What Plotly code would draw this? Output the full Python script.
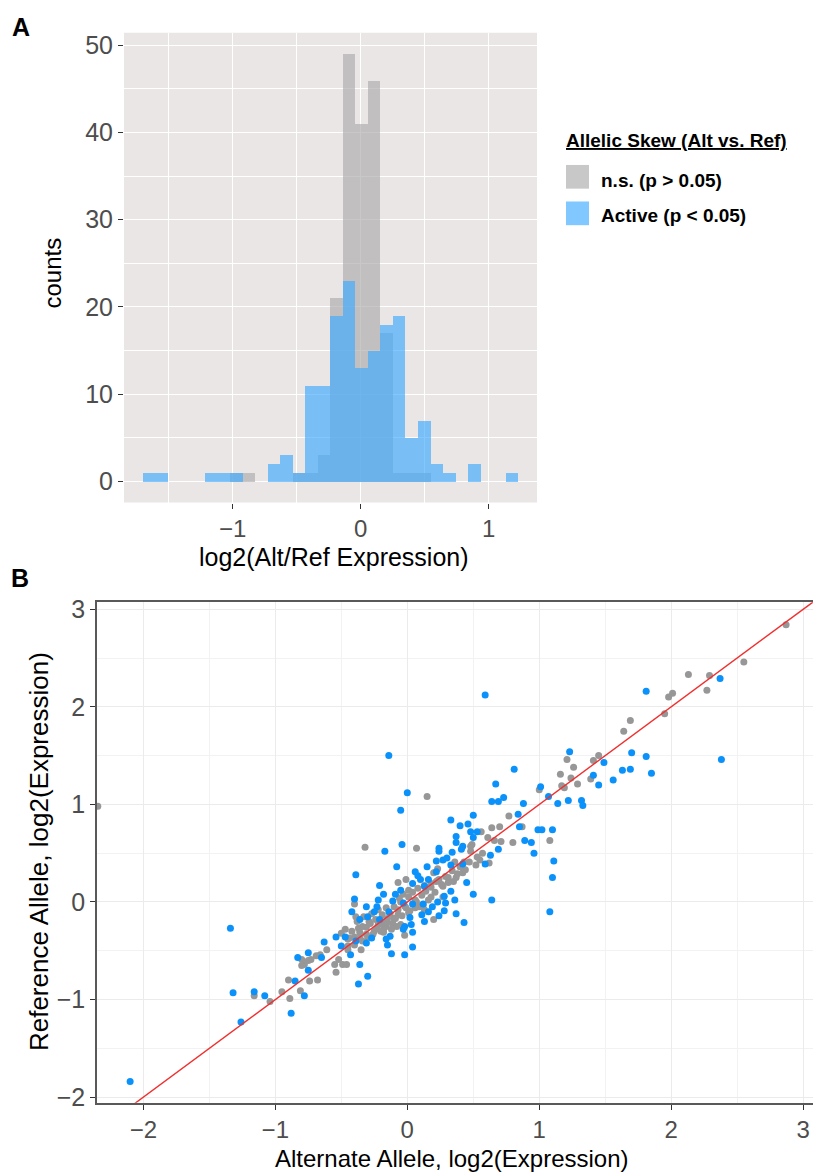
import plotly.graph_objects as go

# ---------------- Panel A data: histogram of log2(Alt/Ref) ----------------
bin_start = -1.702          # left edge of first bin (log2 units)
bin_width = 0.0977          # 30 bins
ns_counts = [0, 0, 0, 0, 0, 0, 0, 1, 1, 0, 0, 0, 1, 1, 3, 21, 49, 41, 46, 17,
             1, 1, 1, 0, 0, 0, 0, 0, 0, 0]
active_counts = [1, 1, 0, 0, 0, 1, 1, 1, 0, 0, 2, 3, 1, 11, 11, 19, 23, 13, 15, 18,
                 19, 5, 7, 2, 1, 0, 2, 0, 0, 1]
hist_x_ticks = [-1, 0, 1]
hist_y_ticks = [0, 10, 20, 30, 40, 50]

# ---------------- Panel B data: Alt vs Ref expression ----------------
ns_points = [
    (2.87, 2.84), (2.55, 2.46), (2.13, 2.33), (2.29, 2.32), (2.27, 2.17), (2.01, 2.14),
    (1.98, 2.10), (1.95, 1.93), (1.69, 1.86), (1.64, 1.75), (1.21, 1.46), (1.45, 1.50),
    (1.41, 1.45), (1.26, 1.38), (1.16, 1.31), (1.24, 1.27), (1.39, 1.26), (1.29, 1.21),
    (1.17, 1.19), (1.19, 1.17), (0.15, 1.08), (1.00, 1.15), (0.77, 0.88), (0.56, 0.72),
    (0.64, 0.76), (0.70, 0.77), (0.87, 0.77), (1.08, 0.63), (0.80, 0.61), (0.71, 0.62),
    (0.66, 0.63), (0.61, 0.66), (0.49, 0.59), (0.57, 0.50), (0.62, 0.40), (0.55, 0.43),
    (0.07, 0.55), (0.36, 0.41), (0.43, 0.41), (0.48, 0.57), (0.48, 0.52), (0.53, 0.46),
    (0.23, 0.34), (0.20, 0.30), (-0.32, 0.56), (-2.345, 0.98), (-0.07, 0.20), (-0.01, 0.23),
    (0.01, 0.12), (0.13, 0.17), (0.18, 0.19), (0.22, 0.21), (0.24, 0.23), (0.27, 0.16),
    (0.31, 0.25), (0.35, 0.21), (0.38, 0.29), (0.42, 0.30),
    (-0.40, -0.02), (-0.39, -0.15), (-0.37, -0.27), (-0.34, -0.25), (-0.29, -0.20),
    (-0.31, -0.33), (-0.25, -0.30), (-0.36, -0.37), (-0.40, -0.36), (-0.50, -0.32),
    (-0.47, -0.28), (-0.44, -0.37), (-0.45, -0.45), (-0.35, -0.49), (-0.61, -0.49),
    (-0.45, -0.49), (-0.52, -0.59), (-0.49, -0.64), (-0.46, -0.64), (-0.55, -0.64),
    (-0.54, -0.72), (-0.69, -0.55), (-0.66, -0.54), (-0.73, -0.59), (-0.78, -0.64),
    (-0.80, -0.59), (-0.80, -0.65), (-0.75, -0.60), (-0.74, -0.81), (-0.68, -0.80),
    (-0.90, -0.80), (-0.95, -0.92), (-0.81, -0.91), (-0.89, -0.99), (-1.04, -1.02),
    (-1.16, -0.96), (-0.22, -0.23),
    (-0.05, 0.00), (0.12, -0.03), (0.13, -0.08), (0.20, -0.18), (0.18, 0.05), (0.27, 0.05),
    (-0.02, -0.34), (-0.18, -0.28), (-0.17, -0.20), (-0.15, -0.17), (-0.10, -0.17),
    (-0.07, -0.13), (-0.11, -0.22), (-0.01, -0.06), (0.01, -0.11), (-0.05, -0.23),
    (-0.08, -0.25), (-0.16, -0.25), (-0.20, -0.30), (0.07, 0.00), (0.06, -0.06),
    (-0.45, -0.38), (-0.42, -0.30), (-0.40, -0.44), (-0.38, -0.20), (-0.36, -0.31),
    (-0.34, -0.40), (-0.33, -0.15), (-0.31, -0.26), (-0.30, -0.36), (-0.28, -0.22),
    (-0.27, -0.12), (-0.26, -0.33), (-0.24, -0.18), (-0.23, -0.27), (-0.22, -0.08),
    (-0.20, -0.22), (-0.19, -0.13), (-0.18, -0.31), (-0.16, -0.06), (-0.15, -0.21),
    (-0.13, -0.12), (-0.12, -0.28), (-0.10, -0.05), (-0.09, -0.17), (-0.07, -0.08),
    (-0.06, 0.04), (-0.04, -0.14), (-0.03, 0.08), (-0.02, -0.04), (0.01, 0.05),
    (0.02, -0.09), (0.04, 0.10), (0.06, 0.02), (0.08, 0.14), (0.09, -0.05),
    (0.11, 0.07), (0.14, 0.11), (0.16, 0.02), (0.18, 0.15), (0.21, 0.10),
    (0.23, 0.22), (0.26, 0.18), (0.29, 0.26), (0.31, 0.20), (0.34, 0.32),
    (0.37, 0.25), (0.40, 0.36), (0.44, 0.33), (0.47, 0.41), (0.52, 0.38),
]
active_points = [
    (2.37, 2.29), (1.81, 2.16), (0.59, 2.12), (1.23, 1.54), (1.70, 1.53), (1.81, 1.49),
    (2.38, 1.46), (1.49, 1.43), (1.63, 1.35), (1.69, 1.36), (1.85, 1.32), (1.41, 1.30),
    (1.56, 1.25), (1.45, 1.20), (0.81, 1.36), (0.67, 1.21), (0.00, 1.12), (1.01, 1.18),
    (1.07, 1.08), (0.73, 1.07), (0.69, 1.03), (0.64, 1.03), (0.88, 1.01), (1.14, 1.01),
    (1.22, 1.04), (1.32, 1.04), (1.33, 0.99), (-0.05, 0.94), (0.84, 0.90), (0.50, 0.89),
    (0.33, 0.84), (0.40, 0.78), (0.46, 0.80), (0.48, 0.72), (0.53, 0.72), (0.85, 0.77),
    (0.99, 0.74), (1.02, 0.74), (1.10, 0.74), (1.11, 0.42), (0.96, 0.50), (0.94, 0.61),
    (0.89, 0.63), (0.50, 0.66), (0.69, 0.54), (0.63, 0.48), (0.59, 0.39), (-0.04, 0.59),
    (0.37, 0.61), (0.37, 0.67), (0.34, 0.51), (0.42, 0.57), (0.41, 0.54), (0.24, 0.55),
    (0.24, 0.52), (0.22, 0.42), (0.27, 0.43), (0.30, 0.45), (0.42, 0.39),
    (-0.14, 1.50), (-0.17, 0.52), (-0.08, 0.36), (-0.39, 0.28), (-0.21, 0.17),
    (-0.09, 0.08), (0.04, 0.19), (0.10, 0.23), (0.16, 0.23), (0.13, 0.16), (0.33, 0.11),
    (0.45, 0.20), (0.50, 0.08), (1.10, 0.25),
    (-0.40, 0.03), (-0.31, -0.05), (-1.34, -0.27), (-0.36, -0.18), (-0.30, -0.15),
    (-0.27, -0.37), (-0.31, -0.42), (-0.47, -0.36), (-0.54, -0.36), (-0.39, -0.40),
    (-0.50, -0.45), (-0.43, -0.54), (-0.63, -0.41), (-0.36, -0.64), (-0.30, -0.76),
    (-0.37, -0.84), (-0.65, -0.57), (-0.75, -0.52), (-0.83, -0.57), (-0.75, -0.70),
    (-0.85, -0.81), (-0.78, -0.96), (-0.88, -1.14), (-1.08, -0.96), (-1.16, -0.92),
    (-1.32, -0.93), (-1.26, -1.23), (-0.23, -0.05), (-0.25, -0.10), (-0.21, -0.18),
    (-0.11, 0.01), (-0.03, -0.01), (0.04, -0.02), (0.16, -0.10), (0.11, -0.13),
    (0.13, -0.20), (0.24, -0.14), (0.28, -0.09), (0.29, -0.01), (0.23, 0.00),
    (0.36, 0.02), (0.37, -0.12), (0.43, -0.21), (0.64, 0.02), (1.08, -0.10),
    (-0.02, -0.25), (-0.03, -0.28), (0.04, -0.31), (0.03, -0.23), (-0.13, -0.35),
    (-0.16, -0.38), (-0.15, -0.44), (0.04, -0.46), (-0.12, -0.53), (-0.02, -0.54),
    (-2.10, -1.84),
    (-0.22, 0.02), (-0.14, -0.10), (-0.05, 0.12), (0.02, -0.16), (0.08, 0.27),
    (0.12, -0.02), (0.19, -0.05), (0.22, 0.31), (0.28, 0.06), (0.33, 0.38),
    (-0.42, -0.10), (-0.18, 0.08), (0.06, 0.31), (0.15, 0.36),
]
scatter_ticks = [-2, -1, 0, 1, 2, 3]

ns_alt = [p[0] for p in ns_points]
ns_ref = [p[1] for p in ns_points]
active_alt = [p[0] for p in active_points]
active_ref = [p[1] for p in active_points]

# ---------------- build figure ----------------
W, H = 813, 1174
FONT = "Liberation Sans, Arial, Helvetica, sans-serif"
GRAY_FILL = "rgba(171,171,171,0.65)"
BLUE_FILL = "rgba(60,171,255,0.65)"

centers = [bin_start + (i + 0.5) * bin_width for i in range(len(ns_counts))]

fig = go.Figure()
fig.add_trace(go.Bar(x=centers, y=ns_counts, width=bin_width, name="n.s. (p > 0.05)",
                     marker=dict(color=GRAY_FILL, line=dict(width=0)),
                     xaxis="x", yaxis="y", showlegend=False))
fig.add_trace(go.Bar(x=centers, y=active_counts, width=bin_width, name="Active (p < 0.05)",
                     marker=dict(color=BLUE_FILL, line=dict(width=0)),
                     xaxis="x", yaxis="y", showlegend=False))

fig.add_trace(go.Scatter(x=ns_alt, y=ns_ref, mode="markers",
                         marker=dict(size=7, color="#979797", line=dict(width=0)),
                         xaxis="x2", yaxis="y2", showlegend=False))
fig.add_trace(go.Scatter(x=active_alt, y=active_ref, mode="markers",
                         marker=dict(size=7, color="#0A91FA", line=dict(width=0)),
                         xaxis="x2", yaxis="y2", showlegend=False))

all_vals = ns_alt + ns_ref + active_alt + active_ref
diag = [min(all_vals) - 1, max(all_vals) + 1]
fig.add_trace(go.Scatter(x=diag, y=diag, mode="lines",
                         line=dict(color="#F03030", width=1.4),
                         xaxis="x2", yaxis="y2", showlegend=False))

tick_font = dict(family=FONT, size=25, color="#4D4D4D")
tick_font_b = dict(family=FONT, size=24, color="#4D4D4D")

def px_x(p):
    return p / W

def px_y(p):
    return 1 - p / H

fig.update_layout(
    width=W, height=H,
    margin=dict(l=0, r=0, t=0, b=0),
    paper_bgcolor="white", plot_bgcolor="white",
    barmode="overlay", bargap=0,
    showlegend=False,
    font=dict(family=FONT, color="black"),
    xaxis=dict(domain=[px_x(124), px_x(537)], range=[-1.849, 1.377], anchor="y",
               tickmode="array", tickvals=hist_x_ticks, ticks="outside", ticklen=5,
               tickcolor="#333333", tickwidth=1.1, tickfont=tick_font_b,
               ticklabelstandoff=0,
               showgrid=True, gridcolor="white", gridwidth=1.3,
               minor=dict(tickmode="array", tickvals=[-1.5, -0.5, 0.5],
                          showgrid=True, gridcolor="white", gridwidth=0.6, ticks=""),
               zeroline=False, showline=False, fixedrange=True),
    yaxis=dict(domain=[px_y(502), px_y(26)], range=[-2.45, 51.45], anchor="x",
               tickmode="array", tickvals=hist_y_ticks, ticks="outside", ticklen=5,
               tickcolor="#333333", tickwidth=1.1, tickfont=tick_font,
               showgrid=True, gridcolor="white", gridwidth=1.3,
               minor=dict(tickmode="array", tickvals=[5, 15, 25, 35, 45],
                          showgrid=True, gridcolor="white", gridwidth=0.6, ticks=""),
               zeroline=False, showline=False, fixedrange=True),
    xaxis2=dict(domain=[px_x(97), 1.0], range=[-2.351, 3.074], anchor="y2",
                tickmode="array", tickvals=scatter_ticks, ticks="outside", ticklen=5,
                tickcolor="#333333", tickwidth=1.1, tickfont=tick_font_b,
                ticklabelstandoff=0,
                showgrid=True, gridcolor="#EBEBEB", gridwidth=1.1,
                minor=dict(tickmode="array", tickvals=[-1.5, -0.5, 0.5, 1.5, 2.5],
                           showgrid=True, gridcolor="#F2F2F2", gridwidth=0.6, ticks=""),
                zeroline=False, showline=True, linecolor="#595959", linewidth=1.5,
                mirror=True, fixedrange=True),
    yaxis2=dict(domain=[px_y(1110), px_y(603)], range=[-2.058, 3.071], anchor="x2",
                tickmode="array", tickvals=scatter_ticks, ticks="outside", ticklen=5,
                tickcolor="#333333", tickwidth=1.1, tickfont=tick_font,
                showgrid=True, gridcolor="#EBEBEB", gridwidth=1.1,
                minor=dict(tickmode="array", tickvals=[-1.5, -0.5, 0.5, 1.5, 2.5],
                           showgrid=True, gridcolor="#F2F2F2", gridwidth=0.6, ticks=""),
                zeroline=False, showline=True, linecolor="#595959", linewidth=1.5,
                fixedrange=True),
)

shapes = [
    # panel A background
    dict(type="rect", xref="x domain", yref="y domain", x0=0, x1=1, y0=0, y1=1,
         fillcolor="#EBE6E6", line=dict(width=0), layer="below"),
    # legend keys
    dict(type="rect", xref="paper", yref="paper", x0=px_x(566), x1=px_x(589),
         y0=px_y(184), y1=px_y(160), fillcolor=GRAY_FILL, line=dict(width=0)),
    dict(type="rect", xref="paper", yref="paper", x0=px_x(566), x1=px_x(589),
         y0=px_y(221), y1=px_y(197), fillcolor=BLUE_FILL, line=dict(width=0)),
]
fig.update_layout(shapes=shapes)

def ann(text, x, y, size, xanchor="center", angle=0, color="black"):
    return dict(text=text, x=px_x(x), y=px_y(y), xref="paper", yref="paper",
                xanchor=xanchor, yanchor="middle", showarrow=False, textangle=angle,
                font=dict(family=FONT, size=size, color=color))

annotations = [
    ann("<b>A</b>", 21, 20, 25),
    ann("<b>B</b>", 20, 578, 25),
    ann("counts", 53, 270, 24, angle=-90),
    ann("log2(Alt/Ref Expression)", 334, 557, 25),
    ann("Reference Allele, log2(Expression)", 39, 856, 26, angle=-90),
    ann("Alternate Allele, log2(Expression)", 452, 1166, 24),
    ann("<b><u>Allelic Skew (Alt vs. Ref)</u></b>", 564, 135, 19, xanchor="left"),
    ann("<b>n.s. (p &gt; 0.05)</b>", 599, 176, 19, xanchor="left"),
    ann("<b>Active (p &lt; 0.05)</b>", 599, 211, 19, xanchor="left"),
]
fig.update_layout(annotations=annotations)

fig.write_html("out.html")
